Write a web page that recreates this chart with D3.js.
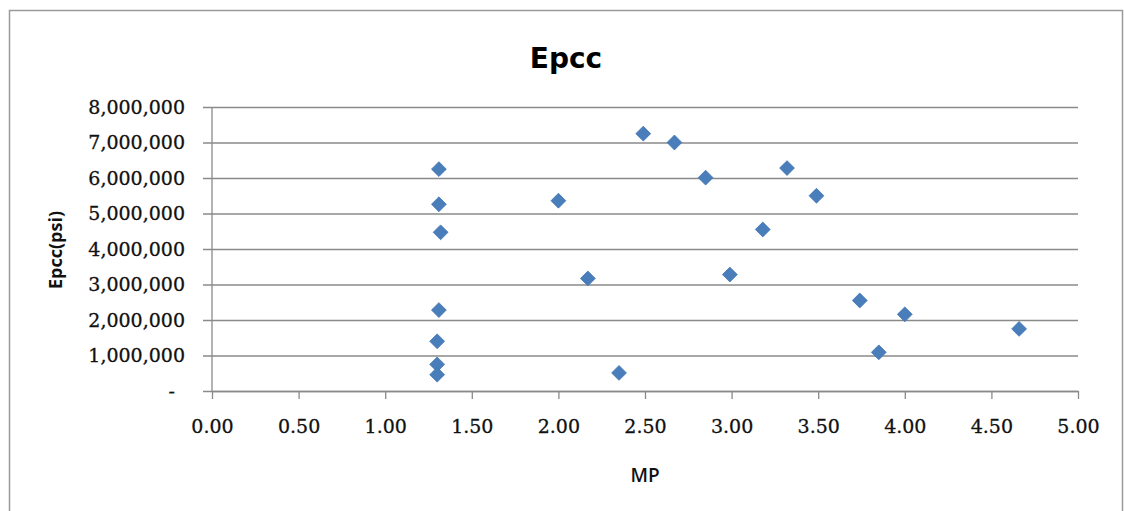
<!DOCTYPE html>
<html>
<head>
<meta charset="utf-8">
<script src="https://cdn.jsdelivr.net/npm/d3@7"></script>
<style>
  html, body { margin: 0; padding: 0; background: #ffffff; }
  svg { display: block; }
</style>
</head>
<body>
<svg id="chart" width="1124" height="511"></svg>
<script>
// MP readings and the matching Epcc values (psi)
const mpValues = [2.49, 2.67, 1.31, 2.85, 3.32, 2.00, 3.49, 1.31, 1.32, 3.18, 2.17,
                  2.99, 1.31, 1.30, 1.30, 1.30, 2.35, 3.74, 4.00, 3.85, 4.66];
const epccValues = [7250000, 7000000, 6250000, 6010000, 6280000, 5360000, 5500000,
                    5260000, 4470000, 4550000, 3170000, 3280000, 2280000, 1400000,
                    750000, 460000, 510000, 2550000, 2160000, 1090000, 1750000];
const xTicks = [0, 0.5, 1, 1.5, 2, 2.5, 3, 3.5, 4, 4.5, 5];
const yTicks = [0, 1000000, 2000000, 3000000, 4000000, 5000000, 6000000, 7000000, 8000000];

const svg = d3.select("#chart");
const plot = { left: 212, right: 1078, top: 107, bottom: 391 };

// outer chart frame
svg.append("rect")
  .attr("x", 9.5).attr("y", 10.5)
  .attr("width", 1113).attr("height", 540)
  .attr("fill", "#ffffff")
  .attr("stroke", "#9a9a9a").attr("stroke-width", 1.5);

const x = d3.scaleLinear().domain([0, 5]).range([plot.left, plot.right]);
const y = d3.scaleLinear().domain([0, 8000000]).range([plot.bottom, plot.top]);

// horizontal gridlines + y axis
const yAxis = d3.axisLeft(y)
  .tickValues(yTicks)
  .tickSize(-(plot.right - plot.left))
  .tickSizeOuter(0)
  .tickPadding(27)
  .tickFormat(d => d === 0 ? "-" : d3.format(",")(d));

const gy = svg.append("g")
  .attr("transform", `translate(${plot.left},0)`)
  .call(yAxis);
gy.select(".domain").remove();
gy.selectAll(".tick line")
  .attr("x1", -9)
  .attr("stroke", "#8a8a8a").attr("stroke-width", 1.3);
gy.selectAll(".tick text")
  .attr("font-family", "DejaVu Serif")
  .attr("font-size", 19)
  .attr("fill", "#111")
  .attr("stroke", "#111").attr("stroke-width", 0.3);
gy.selectAll(".tick text").filter(d => d === 0).attr("x", -37);

// vertical axis line
svg.append("line")
  .attr("x1", plot.left).attr("x2", plot.left)
  .attr("y1", plot.top).attr("y2", plot.bottom)
  .attr("stroke", "#8a8a8a").attr("stroke-width", 1.3);

// x axis
const xAxis = d3.axisBottom(x)
  .tickValues(xTicks)
  .tickSize(8)
  .tickSizeOuter(0)
  .tickPadding(21)
  .tickFormat(d3.format(".2f"));
const gx = svg.append("g")
  .attr("transform", `translate(0,${plot.bottom})`)
  .call(xAxis);
gx.select(".domain").attr("stroke", "#8a8a8a").attr("stroke-width", 1.3);
gx.selectAll(".tick line").attr("stroke", "#8a8a8a").attr("stroke-width", 1.3);
gx.selectAll(".tick text")
  .attr("font-family", "DejaVu Serif")
  .attr("font-size", 19)
  .attr("fill", "#111")
  .attr("stroke", "#111").attr("stroke-width", 0.3);

// diamond markers
const points = mpValues.map((v, i) => ({ mp: v, epcc: epccValues[i] }));
const diamond = d3.symbol().type(d3.symbolDiamond2).size(140);
svg.append("g")
  .selectAll("path")
  .data(points)
  .join("path")
  .attr("transform", d => `translate(${x(d.mp)},${y(d.epcc)})`)
  .attr("d", diamond)
  .attr("fill", "#4a7ebb")
  .attr("stroke", "#3f73b3")
  .attr("stroke-width", 0.8);

// titles
svg.append("text")
  .attr("x", 566).attr("y", 68)
  .attr("text-anchor", "middle")
  .attr("font-family", "DejaVu Sans")
  .attr("font-weight", "bold")
  .attr("font-size", 28)
  .attr("fill", "#000")
  .text("Epcc");

svg.append("text")
  .attr("transform", "translate(62,250) rotate(-90)")
  .attr("text-anchor", "middle")
  .attr("font-family", "Open Sans")
  .attr("font-weight", 700)
  .attr("font-size", 18)
  .attr("fill", "#111")
  .text("Epcc(psi)");

svg.append("text")
  .attr("x", 645).attr("y", 482)
  .attr("text-anchor", "middle")
  .attr("font-family", "Open Sans")
  .attr("font-weight", 600)
  .attr("font-size", 19)
  .attr("fill", "#111")
  .text("MP");
</script>
</body>
</html>
